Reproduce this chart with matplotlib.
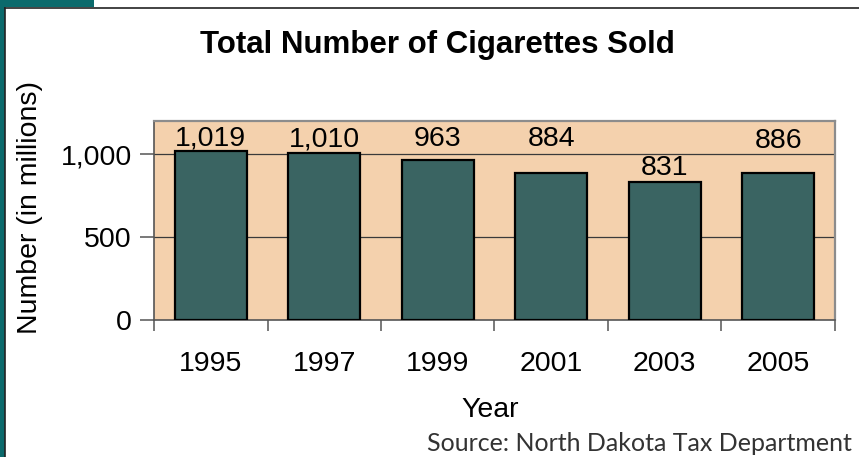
import matplotlib
matplotlib.use("Agg")
import matplotlib.pyplot as plt
from matplotlib.patches import Rectangle
from matplotlib.lines import Line2D

years = ["1995", "1997", "1999", "2001", "2003", "2005"]
sold_millions = [1019, 1010, 963, 884, 831, 886]
value_labels = ["1,019", "1,010", "963", "884", "831", "886"]
y_ticks = [0, 500, 1000]
y_tick_labels = ["0", "500", "1,000"]

# baseline heights (data units) for the value labels
label_heights = [1055, 1049, 1049, 1049, 874, 1037]

W, H = 859, 457
fig = plt.figure(figsize=(W / 100, H / 100), dpi=100)
fig.patch.set_facecolor("white")

font = "Liberation Sans"
teal = "#0B6A6C"
fs = 20.5

# slide frame: teal strip, teal corner tab, thin dark border
fig.patches.append(Rectangle((0, 0), 4.5 / W, 1, transform=fig.transFigure,
                             facecolor=teal, edgecolor="none", zorder=0))
fig.patches.append(Rectangle((0, 1 - 7 / H), 94 / W, 7 / H, transform=fig.transFigure,
                             facecolor=teal, edgecolor="none", zorder=0))
fig.lines.append(Line2D([4.5 / W, 1], [1 - 7.5 / H, 1 - 7.5 / H], transform=fig.transFigure,
                        color="#222222", lw=1.2))
fig.lines.append(Line2D([4.5 / W, 4.5 / W], [0, 1 - 7.5 / H], transform=fig.transFigure,
                        color="#222222", lw=1.2))

left, right, bottom, top = 154 / W, 835 / W, 1 - 320 / H, 1 - 121 / H
ax = fig.add_axes([left, bottom, right - left, top - bottom])
ax.set_facecolor("#F4D1AD")

x = list(range(len(years)))
ax.bar(x, sold_millions, width=0.63, color="#3A6462", edgecolor="black",
       linewidth=1.6, zorder=3)

ax.set_xlim(-0.5, len(years) - 0.5)
ax.set_ylim(0, 1200)

for gy in y_ticks[1:]:
    ax.axhline(gy, color="#3a3a3a", lw=0.9, zorder=1)

for xi, h, txt in zip(x, label_heights, value_labels):
    ax.text(xi, h, txt, ha="center", va="baseline", fontsize=fs,
            family=font, color="black", zorder=4)

ax.set_yticks(y_ticks)
ax.set_yticklabels(y_tick_labels, fontsize=fs, family=font)
ax.set_xticks([i - 0.5 for i in range(len(years) + 1)], minor=False)
ax.set_xticklabels([""] * (len(years) + 1))
ax.set_xticks(x, minor=True)
ax.set_xticklabels(years, minor=True, fontsize=fs, family=font)
ax.tick_params(axis="x", which="major", length=8, width=1.1, color="#555555", direction="out")
ax.tick_params(axis="x", which="minor", length=0, pad=22)
ax.tick_params(axis="y", length=10, width=1.1, color="#555555", direction="out", pad=6)

for side in ("left", "bottom"):
    ax.spines[side].set_color("#555555")
    ax.spines[side].set_linewidth(1.2)
for side in ("top", "right"):
    ax.spines[side].set_color("#8c8c8c")
    ax.spines[side].set_linewidth(1.6)

fig.text(437 / W, 1 - 45 / H, "Total Number of Cigarettes Sold", ha="center", va="center",
         fontsize=22.5, fontweight="bold", family=font)
fig.text(30 / W, 1 - 208 / H, "Number (in millions)", rotation=90, ha="center", va="center",
         fontsize=fs, family=font)
fig.text(490 / W, 1 - 410 / H, "Year", ha="center", va="center", fontsize=fs, family=font)
fig.text(852 / W, 6 / H, "Source: North Dakota Tax Department", ha="right", va="baseline",
         fontsize=18, family="Lato", color="#333333")

fig.savefig("out.png", dpi=100)
